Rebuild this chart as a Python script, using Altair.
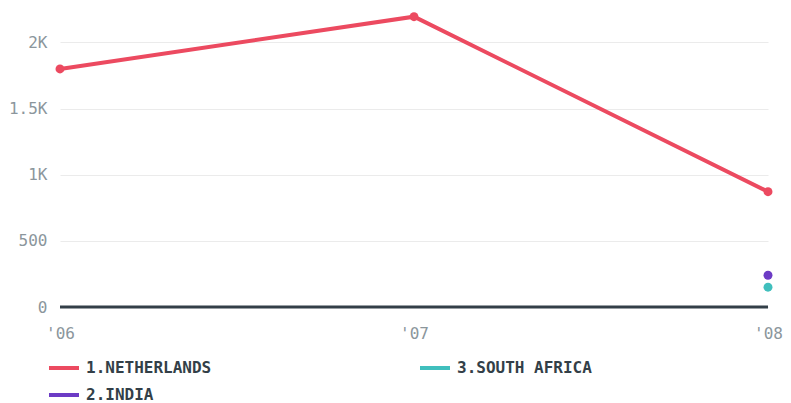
import altair as alt
import pandas as pd

countries = ["1.NETHERLANDS", "1.NETHERLANDS", "1.NETHERLANDS", "2.INDIA", "3.SOUTH AFRICA"]
years = [2006, 2007, 2008, 2008, 2008]
values = [1800, 2195, 872, 240, 150]

legend_order = ["1.NETHERLANDS", "3.SOUTH AFRICA", "2.INDIA"]
colors = ["#ec4a60", "#40bfbd", "#6c3bc5"]

df = pd.DataFrame({"country": countries, "year": years, "value": values})

FONT = "DejaVu Sans Mono"

color = alt.Color(
    "country:N",
    scale=alt.Scale(domain=legend_order, range=colors),
    legend=alt.Legend(
        title=None,
        orient="none",
        legendX=-13,
        legendY=335,
        direction="horizontal",
        columns=2,
        columnPadding=200,
        rowPadding=2,
        symbolType="stroke",
        symbolSize=900,
        symbolStrokeWidth=4,
        labelFont=FONT,
        labelFontSize=16,
        labelFontWeight="bold",
        labelColor="#333f48",
        labelOffset=5,
    ),
)

x = alt.X(
    "year:Q",
    scale=alt.Scale(domain=[2006, 2008], nice=False),
    axis=alt.Axis(
        title=None,
        values=[2006, 2007, 2008],
        labelExpr="\"'\" + substring(toString(datum.value), 2)",
        grid=False,
        domain=False,
        ticks=False,
        labelFlush=False,
        labelFont=FONT,
        labelFontSize=16,
        labelColor="#8b969c",
        labelPadding=18,
    ),
)
y = alt.Y(
    "value:Q",
    scale=alt.Scale(domain=[0, 2200], nice=False),
    axis=alt.Axis(
        title=None,
        values=[0, 500, 1000, 1500, 2000],
        labelExpr="datum.value >= 1000 ? (datum.value / 1000) + 'K' : datum.value",
        grid=True,
        gridColor="#ebebeb",
        domain=False,
        ticks=False,
        labelFont=FONT,
        labelFontSize=16,
        labelColor="#8b969c",
        labelPadding=13,
        minExtent=52,
        maxExtent=52,
    ),
)

base = alt.Chart(df)
line = base.mark_line(strokeWidth=4).encode(x=x, y=y, color=color)
points = base.mark_circle(size=80, opacity=1).encode(x=x, y=y, color=color)
zero = alt.Chart(pd.DataFrame({"v": [0]})).mark_rule(color="#333f48", strokeWidth=3).encode(y="v:Q")

chart = (
    alt.layer(zero, line, points)
    .properties(width=708, height=291, padding={"left": 0, "top": 0, "right": 0, "bottom": 0})
    .configure_view(stroke=None)
)

chart.save("out.html", embed_options={"renderer": "svg", "actions": False})
